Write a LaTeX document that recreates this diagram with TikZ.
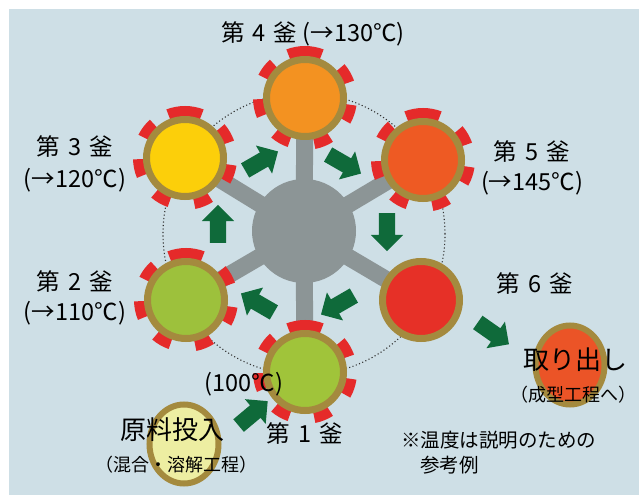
\documentclass[tikz,border=0pt]{standalone}
\usepackage{fontspec}
\setmainfont{Noto Sans CJK JP}
\usetikzlibrary{shapes.arrows,shapes.geometric}
\definecolor{bgc}{HTML}{CEDFE6}
\definecolor{ringc}{HTML}{A48A3E}
\definecolor{heatc}{HTML}{E52A2A}
\definecolor{fillfour}{HTML}{F39221}
\definecolor{fillfive}{HTML}{EE5A23}
\definecolor{fillthree}{HTML}{FCCF0A}
\definecolor{filltwo}{HTML}{9DC13C}
\definecolor{fillone}{HTML}{A0C43A}
\definecolor{fillsix}{HTML}{E63027}
\definecolor{fillout}{HTML}{EB5427}
\definecolor{fillfeed}{HTML}{EDEEA2}
\definecolor{hubc}{HTML}{8C9596}
\definecolor{agreen}{HTML}{0F6A3A}
\definecolor{dotc}{HTML}{333333}
\tikzset{
  vessel/.style={circle, draw=ringc, line width=7pt, minimum size=77pt, inner sep=0pt},
  outer/.style={ellipse, draw=ringc, line width=6pt, minimum width=69pt, minimum height=79pt, inner sep=0pt},
  hubnode/.style={circle, fill=hubc, minimum size=104pt, inner sep=0pt},
  spoke/.style={draw=hubc, line width=17pt},
  garrow/.style={single arrow, fill=agreen, draw=none, minimum height=38pt, inner xsep=0pt, inner ysep=8pt, single arrow head extend=8pt, outer sep=0pt},
  lbl/.style={font=\fontsize{23.5}{25}\selectfont, inner sep=0pt, text=black},
  big/.style={font=\fontsize{26}{28}\selectfont, inner sep=0pt, text=black},
  small/.style={font=\fontsize{18}{20}\selectfont, inner sep=0pt, text=black},
  note/.style={font=\fontsize{19.5}{22}\selectfont, inner sep=0pt, text=black, anchor=west},
}
\newcommand\heaters[1]{%
  \foreach \a in {30,79.5,100.5,143,192,240,292,341}{%
    \fill[heatc] ([shift={(\a-10.5:40pt)}]#1) arc[start angle=\a-10.5, end angle=\a+10.5, radius=40pt]
      -- ([shift={(\a+10.5:52pt)}]#1) arc[start angle=\a+10.5, end angle=\a-10.5, radius=52pt] -- cycle;}}
\begin{document}
\begin{tikzpicture}[x=1pt,y=1pt]
\useasboundingbox (0,0) rectangle (639,495);
\fill[bgc] (9,0) rectangle (639,486);
% centres
\coordinate (c4) at (305,397);
\coordinate (c5) at (423,335);
\coordinate (c6) at (421,195);
\coordinate (c1) at (305,123);
\coordinate (c2) at (186,195);
\coordinate (c3) at (185,337);
\coordinate (h) at (304,264);
% dotted ring
\node[circle, draw=dotc, line width=1.1pt, dash pattern=on 1.1pt off 2.4pt, minimum size=282pt, inner sep=0pt] (loop) at (304,261) {};
% spokes
\foreach \c in {c1,c2,c3,c4,c5,c6}{\draw[spoke] (h) -- (\c);}
\node[hubnode] (hub) at (h) {};
% heaters
\heaters{c1}\heaters{c2}\heaters{c3}\heaters{c4}\heaters{c5}
% vessels
\node[vessel, fill=fillfour] (v4) at (c4) {};
\node[vessel, fill=fillfive] (v5) at (c5) {};
\node[vessel, fill=fillsix] (v6) at (c6) {};
\node[vessel, fill=fillone] (v1) at (c1) {};
\node[vessel, fill=filltwo] (v2) at (c2) {};
\node[vessel, fill=fillthree] (v3) at (c3) {};
\node[outer, fill=fillfeed] (feed) at (184,51) {};
\node[outer, fill=fillout] (out) at (570,130) {};
% arrows
\node[garrow, rotate=30] (a34) at (258,332) {};
\node[garrow, rotate=-30] (a45) at (341,333) {};
\node[garrow, rotate=-90] (a56) at (387,267) {};
\node[garrow, rotate=210] (a61) at (341,192) {};
\node[garrow, rotate=150] (a12) at (261,190) {};
\node[garrow, rotate=90] (a23) at (218,267) {};
\node[garrow, rotate=40] (afeed) at (250,79) {};
\node[garrow, rotate=-35] (aout) at (490,164) {};
% labels
\node[lbl] (t4) at (313,461) {第\hspace{8pt}4\hspace{8pt}釜 (→130℃)};
\node[lbl] (t3) at (75,348) {第\hspace{8pt}3\hspace{8pt}釜};
\node[lbl] (t3b) at (75,315) {(→120℃)};
\node[lbl] (t2) at (75,213) {第\hspace{8pt}2\hspace{8pt}釜};
\node[lbl] (t2b) at (75,182) {(→110℃)};
\node[lbl] (t5) at (532,343) {第\hspace{8pt}5\hspace{8pt}釜};
\node[lbl] (t5b) at (532,312) {(→145℃)};
\node[lbl] (t6) at (535,211) {第\hspace{8pt}6\hspace{8pt}釜};
\node[lbl] (t1) at (305,61) {第\hspace{8pt}1\hspace{8pt}釜};
\node[lbl] (t1b) at (244,111) {(100℃)};
\node[big] (tfeed) at (172,65) {原料投入};
\node[small] (tfeedb) at (176,30) {（混合・溶解工程）};
\node[big] (tout) at (575,135) {取り出し};
\node[small] (toutb) at (573,100) {（成型工程へ）};
\node[note] (n1) at (401,55) {※温度は説明のための};
\node[note] (n2) at (420,30) {参考例};
\end{tikzpicture}
\end{document}
